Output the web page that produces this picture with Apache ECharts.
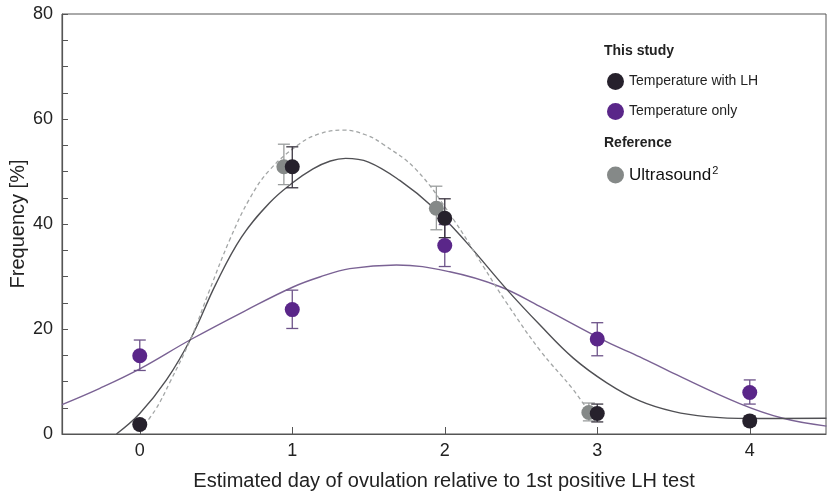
<!DOCTYPE html>
<html>
<head>
<meta charset="utf-8">
<script src="https://cdn.jsdelivr.net/npm/echarts@6/dist/echarts.min.js"></script>
<style>
  html, body { margin: 0; padding: 0; background: #fff; }
  #chart { width: 827px; height: 493px; }
</style>
</head>
<body>
<div id="chart"></div>
<script>
// ---------- DATA ----------
const xTicks = [0, 1, 2, 3, 4];
const yLabels = [0, 20, 40, 60, 80];

// Temperature with LH (dark)
const lhDays = [0, 1, 2, 3, 4];
const lhValues = [1.8, 50.9, 41.1, 3.9, 2.5];
const lhLow = [1.0, 46.9, 37.4, 2.3, 1.6];
const lhHigh = [2.6, 54.7, 44.8, 5.7, 3.4];

// Temperature only (purple)
const tempDays = [0, 1, 2, 3, 4];
const tempValues = [14.9, 23.7, 35.9, 18.1, 7.9];
const tempLow = [12.1, 20.1, 31.9, 14.9, 5.7];
const tempHigh = [17.9, 27.4, 39.9, 21.2, 10.3];

// Ultrasound (reference, grey)
const usDays = [1, 2, 3];
const usValues = [50.9, 43.0, 4.1];
const usLow = [47.5, 38.9, 2.5];
const usHigh = [55.2, 47.2, 5.9];

// Fitted curves
const lhFitX = [-0.153, 0.0, 0.175, 0.335, 0.498, 0.667, 0.85, 1.0, 1.136, 1.25, 1.35, 1.5, 1.705, 1.923, 2.142, 2.405, 2.623, 2.841, 3.06, 3.279, 3.497, 3.716, 4.0, 4.503];
const lhFitY = [0.0, 3.9, 10.3, 18.2, 28.5, 37.5, 44.0, 47.8, 50.5, 52.0, 52.5, 51.8, 48.3, 43.2, 36.5, 27.6, 20.8, 14.5, 9.8, 6.3, 4.3, 3.3, 2.95, 3.0];

const usFitX = [0.0, 0.1, 0.2, 0.335, 0.459, 0.59, 0.72, 0.852, 1.049, 1.18, 1.333, 1.48, 1.595, 1.814, 2.054, 2.251, 2.405, 2.623, 2.841, 2.945];
const usFitY = [0.7, 4.5, 10.0, 18.2, 27.5, 37.0, 44.8, 50.3, 55.3, 57.2, 57.9, 57.0, 55.2, 50.3, 41.0, 32.0, 25.0, 16.0, 8.5, 4.2];

const tempFitX = [-0.51, -0.262, 0.0, 0.335, 0.70, 1.005, 1.18, 1.377, 1.683, 2.033, 2.36, 2.623, 3.06, 3.279, 3.497, 3.934, 4.218, 4.503];
const tempFitY = [5.6, 8.7, 12.4, 18.0, 23.6, 28.0, 29.9, 31.5, 32.2, 30.9, 28.1, 24.3, 17.6, 14.7, 11.6, 5.8, 3.0, 1.5];

// ---------- STYLE ----------
const DARK = '#26212c';
const PURPLE = '#5a2689';
const GREY = '#858988';
const US_OFFSET = -0.055;
const FONT = '"Liberation Sans", Arial, sans-serif';

const zip = (xs, ys) => xs.map((x, i) => [x, ys[i]]);

function errorBarSeries(name, xs, lows, highs, color, offset) {
  return {
    type: 'custom',
    name: name,
    z: 3,
    silent: true,
    data: xs.map((x, i) => [x + offset, lows[i], highs[i]]),
    encode: { x: 0, y: [1, 2] },
    renderItem: function (params, api) {
      const x = api.value(0);
      const pLo = api.coord([x, api.value(1)]);
      const pHi = api.coord([x, api.value(2)]);
      const hw = 6;
      const st = { stroke: color, lineWidth: 1.3 };
      return {
        type: 'group',
        children: [
          { type: 'line', shape: { x1: pLo[0], y1: pLo[1], x2: pHi[0], y2: pHi[1] }, style: st },
          { type: 'line', shape: { x1: pLo[0] - hw, y1: pLo[1], x2: pLo[0] + hw, y2: pLo[1] }, style: st },
          { type: 'line', shape: { x1: pHi[0] - hw, y1: pHi[1], x2: pHi[0] + hw, y2: pHi[1] }, style: st }
        ]
      };
    }
  };
}

const chart = echarts.init(document.getElementById('chart'), null, { renderer: 'canvas' });

const option = {
  animation: false,
  backgroundColor: '#fff',
  textStyle: { fontFamily: FONT },
  grid: {
    left: 62, top: 14, right: 1, bottom: 59,
    containLabel: false,
    outerBoundsMode: 'none',
    show: true, borderColor: '#555', borderWidth: 1, backgroundColor: 'transparent'
  },
  xAxis: {
    type: 'value',
    min: -0.51,
    max: 4.5,
    name: 'Estimated day of ovulation relative to 1st positive LH test',
    nameLocation: 'middle',
    nameGap: 37,
    nameTextStyle: { fontSize: 20, color: '#222', fontFamily: FONT },
    axisLine: { onZero: false, lineStyle: { color: '#555', width: 1.2 } },
    axisTick: { inside: true, length: 7, customValues: xTicks, lineStyle: { color: '#555' } },
    axisLabel: { customValues: xTicks, fontSize: 18, color: '#222', margin: 8, fontFamily: FONT },
    splitLine: { show: false }
  },
  yAxis: {
    type: 'value',
    min: 0,
    max: 80,
    interval: 5,
    name: 'Frequency [%]',
    nameLocation: 'middle',
    nameGap: 34,
    nameMoveOverlap: false,
    nameRotate: 90,
    nameTextStyle: { fontSize: 20, color: '#222', fontFamily: FONT },
    axisLine: { show: true, onZero: false, lineStyle: { color: '#555', width: 1.2 } },
    axisTick: { show: true, inside: true, length: 6, lineStyle: { color: '#555' } },
    axisLabel: {
      fontSize: 18, color: '#222', margin: 9, fontFamily: FONT,
      formatter: v => (yLabels.indexOf(v) >= 0 ? String(v) : '')
    },
    splitLine: { show: false }
  },
  legend: [
    {
      data: ['Temperature with LH', 'Temperature only'],
      orient: 'vertical',
      left: 607, top: 73,
      itemWidth: 17, itemHeight: 17, itemGap: 13,
      icon: 'circle',
      padding: 0,
      textStyle: { fontSize: 14, color: '#222', fontFamily: FONT }
    },
    {
      data: ['Ultrasound²'],
      orient: 'vertical',
      left: 607, top: 165,
      itemWidth: 17, itemHeight: 17,
      icon: 'circle',
      padding: 0,
      formatter: () => '{a|Ultrasound}{s|2}',
      textStyle: {
        color: '#111', fontFamily: FONT,
        rich: {
          a: { fontSize: 17, color: '#111', fontFamily: FONT, lineHeight: 20 },
          s: { fontSize: 11, color: '#111', fontFamily: FONT, verticalAlign: 'top', lineHeight: 20, padding: [0, 0, 6, 1] }
        }
      }
    }
  ],
  graphic: [
    { type: 'text', left: 604, top: 44, style: { text: 'This study', font: 'bold 14px ' + FONT, fill: '#222' } },
    { type: 'text', left: 604, top: 136, style: { text: 'Reference', font: 'bold 14px ' + FONT, fill: '#222' } }
  ],
  series: [
    {
      name: 'Temperature only fit', type: 'line', z: 2, silent: true,
      data: zip(tempFitX, tempFitY), smooth: 0.4, showSymbol: false, symbol: 'none',
      lineStyle: { color: '#7a6294', width: 1.4 }
    },
    {
      name: 'Temperature with LH fit', type: 'line', z: 2, silent: true,
      data: zip(lhFitX, lhFitY), smooth: 0.4, showSymbol: false, symbol: 'none',
      lineStyle: { color: '#505054', width: 1.4 }
    },
    {
      name: 'Ultrasound fit', type: 'line', z: 2, silent: true,
      data: zip(usFitX, usFitY), smooth: 0.4, showSymbol: false, symbol: 'none',
      lineStyle: { color: '#a3a6a6', width: 1.3, type: [4, 3] }
    },
    errorBarSeries('us err', usDays, usLow, usHigh, '#9a9d9d', US_OFFSET),
    errorBarSeries('temp err', tempDays, tempLow, tempHigh, '#6d5389', 0),
    errorBarSeries('lh err', lhDays, lhLow, lhHigh, '#3a3540', 0),
    {
      name: 'Ultrasound²', type: 'scatter', z: 4,
      data: usDays.map((d, i) => [d + US_OFFSET, usValues[i]]),
      symbol: 'circle', symbolSize: 15,
      itemStyle: { color: GREY, opacity: 1 }
    },
    {
      name: 'Temperature only', type: 'scatter', z: 5,
      data: zip(tempDays, tempValues),
      symbol: 'circle', symbolSize: 15,
      itemStyle: { color: PURPLE, opacity: 1 }
    },
    {
      name: 'Temperature with LH', type: 'scatter', z: 6,
      data: zip(lhDays, lhValues),
      symbol: 'circle', symbolSize: 15,
      itemStyle: { color: DARK, opacity: 1 }
    }
  ]
};

chart.setOption(option);
</script>
</body>
</html>
